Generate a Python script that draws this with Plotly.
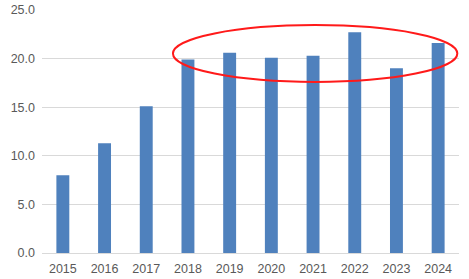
import plotly.graph_objects as go

years = ["2015", "2016", "2017", "2018", "2019", "2020", "2021", "2022", "2023", "2024"]
values = [8.0, 11.3, 15.1, 19.9, 20.6, 20.1, 20.3, 22.7, 19.0, 21.6]
y_ticks = [0, 5, 10, 15, 20, 25]

fig = go.Figure(go.Bar(x=years, y=values, marker_color="#4F81BD", marker_line_width=0))

fig.add_shape(type="circle", xref="x", yref="y",
              x0=2.64, x1=9.46, y0=17.6, y1=23.45,
              line=dict(color="#FF1A1A", width=2))

fig.update_layout(
    width=469, height=279,
    margin=dict(l=42, r=10, t=10, b=26),
    plot_bgcolor="white", paper_bgcolor="white",
    bargap=0.69, showlegend=False,
    font=dict(family="Liberation Sans, Arial", size=12.5, color="#595959"),
)
fig.update_xaxes(showgrid=False, showline=True, linecolor="#D9D9D9", linewidth=1,
                 ticks="", automargin=False, ticklabelstandoff=4,
                 tickfont=dict(size=12.5, color="#595959"))
fig.update_yaxes(range=[0, 25], tickvals=y_ticks, tickformat=".1f", showgrid=True,
                 gridcolor="#D9D9D9", gridwidth=1, zeroline=False, showline=False,
                 ticks="", automargin=False, ticklabelstandoff=6,
                 tickfont=dict(size=12.5, color="#595959"))

fig.write_html("out.html")
